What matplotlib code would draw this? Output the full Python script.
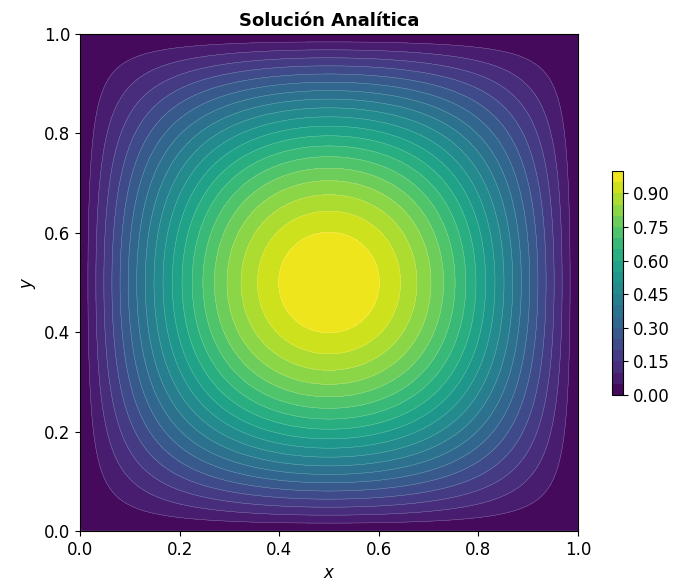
import matplotlib
matplotlib.use('Agg')
import numpy as np
import matplotlib.pyplot as plt

# malla del dominio unitario
x_lim = [0.0, 1.0]
y_lim = [0.0, 1.0]
n_pts = 200
niveles = np.linspace(0.0, 1.0, 21)
ticks_x = [0.0, 0.2, 0.4, 0.6, 0.8, 1.0]
ticks_y = [0.0, 0.2, 0.4, 0.6, 0.8, 1.0]
ticks_cb = [0.0, 0.15, 0.30, 0.45, 0.60, 0.75, 0.90]

x = np.linspace(x_lim[0], x_lim[1], n_pts)
y = np.linspace(y_lim[0], y_lim[1], n_pts)
X, Y = np.meshgrid(x, y)
# solucion analitica u(x,y) = sin(pi x) sin(pi y)
U = np.sin(np.pi * X) * np.sin(np.pi * Y)

fig = plt.figure(figsize=(6.78, 5.88), dpi=100)
ax = fig.add_axes([80/678, 1 - 531/588, 498/678, 497/588])
cs = ax.contourf(X, Y, U, levels=niveles, cmap='viridis')
ax.contour(X, Y, U, levels=niveles, colors='white', linewidths=0.3, alpha=0.4)
ax.set_xlim(x_lim)
ax.set_ylim(y_lim)
ax.set_xticks(ticks_x)
ax.set_yticks(ticks_y)
ax.tick_params(labelsize=12)
ax.set_xlabel('$x$', fontsize=12)
ax.set_ylabel('$y$', fontsize=12)
ax.set_title('Solución Analítica', fontsize=13, fontweight='bold')

cax = fig.add_axes([612/678, 1 - 395/588, 11/678, 224/588])
cb = fig.colorbar(cs, cax=cax)
cb.set_ticks(ticks_cb)
cb.ax.tick_params(labelsize=12)

plt.savefig('out.png', dpi=100)
